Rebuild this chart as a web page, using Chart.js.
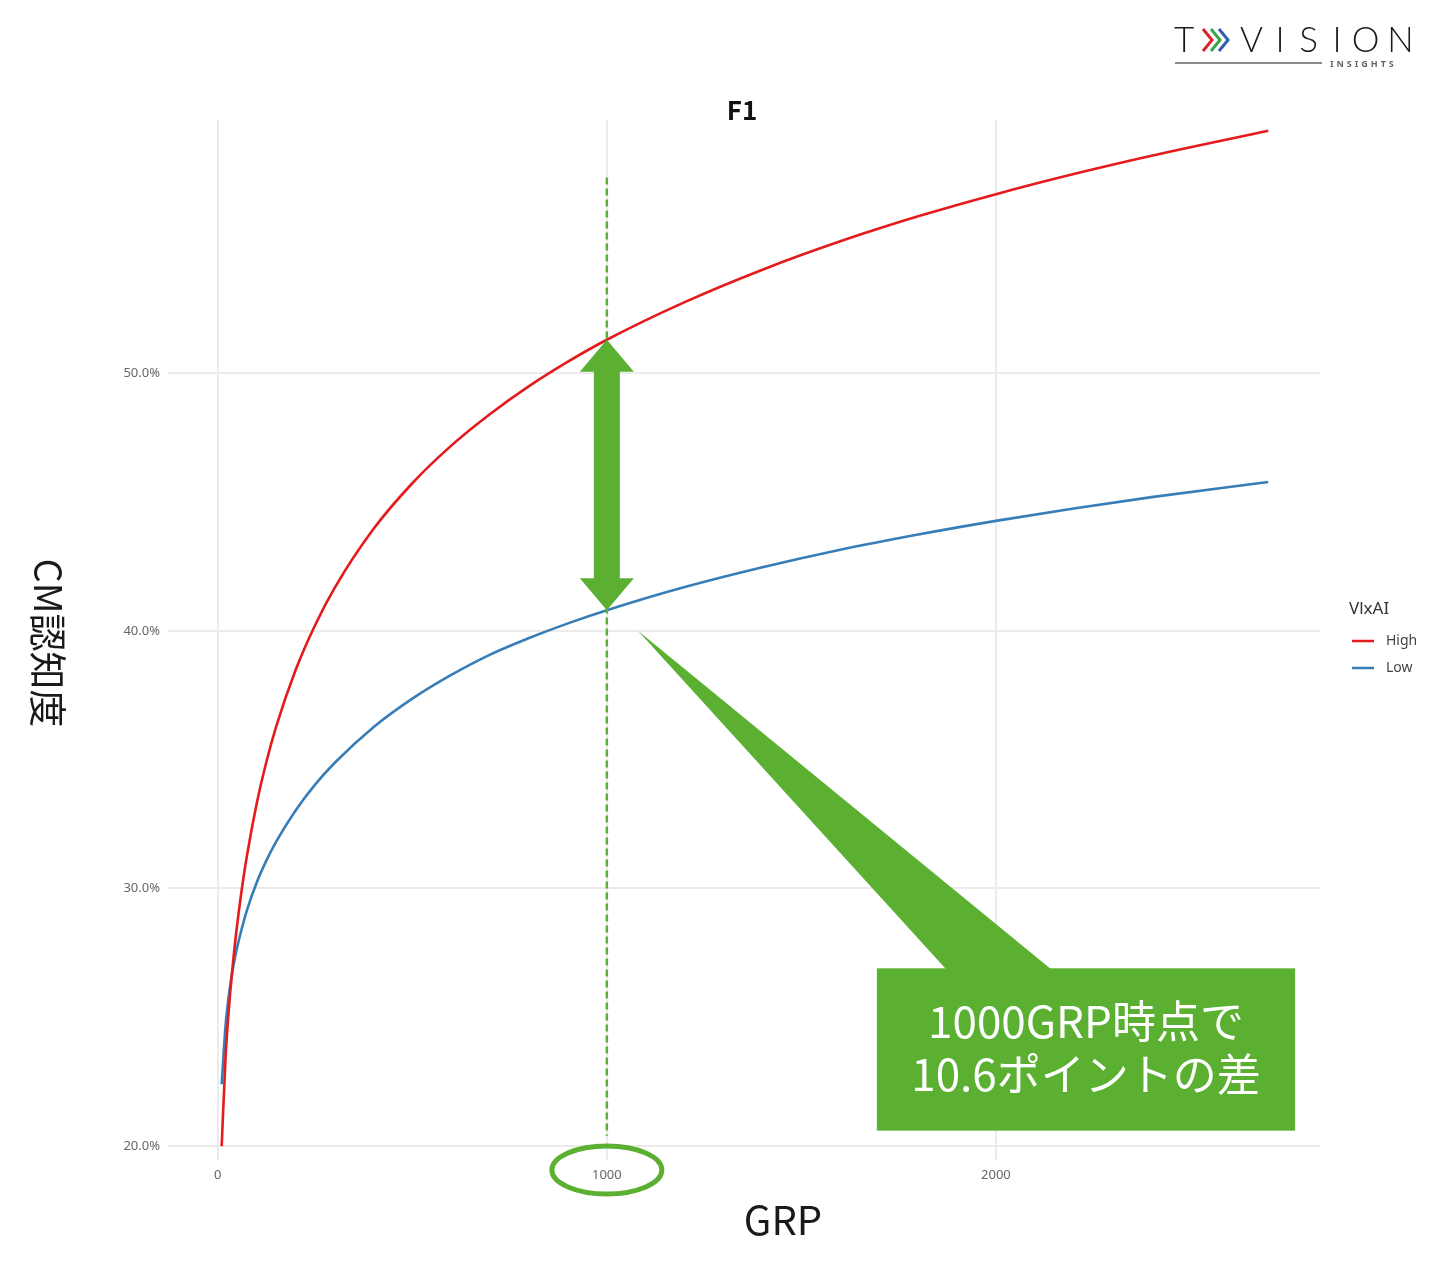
<!DOCTYPE html>
<html>
<head>
<meta charset="utf-8">
<script src="https://cdn.jsdelivr.net/npm/chart.js@4.4.1/dist/chart.umd.min.js"></script>
<style>
  html, body { margin: 0; padding: 0; background: #fff; }
  canvas { display: block; }
</style>
</head>
<body>
<canvas id="grpChart" width="1440" height="1271"></canvas>
<script>
// values
var grp      = [10, 20, 30, 40, 50, 60, 75, 100, 125, 150, 200, 250, 300, 400, 500, 600, 700, 800, 900, 1000, 1200, 1400, 1600, 1800, 2000, 2200, 2400, 2700];
var highVals = [20.0, 23.47, 25.62, 27.26, 28.62, 29.79, 31.28, 33.3, 34.92, 36.28, 38.48, 40.22, 41.66, 43.95, 45.73, 47.19, 48.42, 49.5, 50.45, 51.3, 52.76, 54.02, 55.12, 56.09, 56.95, 57.73, 58.44, 59.41];
var lowVals  = [22.4, 24.69, 26.03, 26.98, 27.73, 28.35, 29.16, 30.23, 31.09, 31.82, 33.03, 34.03, 34.87, 36.26, 37.37, 38.29, 39.08, 39.72, 40.29, 40.8, 41.7, 42.47, 43.15, 43.74, 44.27, 44.75, 45.19, 45.78];
var seriesNames = ['High', 'Low'];
var xTicks = [0, 1000, 2000];
var yTicks = [20, 30, 40, 50];

var GREEN = '#5bb031';
var MARK_GRP = 1000;

function pts(vals) {
  return grp.map(function (g, i) { return { x: g, y: vals[i] }; });
}

// green annotations, titles, legend and logo
var overlay = {
  id: 'overlay',
  afterDatasetsDraw: function (chart) {
    var ctx = chart.ctx;
    var xs = chart.scales.x, ys = chart.scales.y;
    var idx = grp.indexOf(MARK_GRP);
    var cx = xs.getPixelForValue(MARK_GRP);
    var top = ys.getPixelForValue(highVals[idx]);
    var bot = ys.getPixelForValue(lowVals[idx]);

    ctx.save();
    // dashed marker line
    ctx.strokeStyle = GREEN;
    ctx.lineWidth = 2.5;
    ctx.setLineDash([7, 4]);
    ctx.beginPath();
    ctx.moveTo(cx, ys.getPixelForValue(57.6));
    ctx.lineTo(cx, ys.getPixelForValue(20.4));
    ctx.stroke();
    ctx.setLineDash([]);

    // double arrow between the two curves
    ctx.fillStyle = GREEN;
    var hw = 27, hh = 32, sw = 13;
    ctx.beginPath();
    ctx.moveTo(cx, top);
    ctx.lineTo(cx + hw, top + hh);
    ctx.lineTo(cx + sw, top + hh);
    ctx.lineTo(cx + sw, bot - hh);
    ctx.lineTo(cx + hw, bot - hh);
    ctx.lineTo(cx, bot);
    ctx.lineTo(cx - hw, bot - hh);
    ctx.lineTo(cx - sw, bot - hh);
    ctx.lineTo(cx - sw, top + hh);
    ctx.lineTo(cx - hw, top + hh);
    ctx.closePath();
    ctx.fill();

    // callout box with pointer
    var bx1 = xs.getPixelForValue(1694), bx2 = xs.getPixelForValue(2769);
    var by1 = ys.getPixelForValue(26.9), by2 = ys.getPixelForValue(20.6);
    ctx.beginPath();
    ctx.moveTo(xs.getPixelForValue(1080), ys.getPixelForValue(40.0));
    ctx.lineTo(xs.getPixelForValue(1872), by1 + 1);
    ctx.lineTo(xs.getPixelForValue(2142), by1 + 1);
    ctx.closePath();
    ctx.fill();
    ctx.fillRect(bx1, by1, bx2 - bx1, by2 - by1);

    ctx.fillStyle = '#ffffff';
    ctx.font = '44px "Noto Sans CJK JP"';
    ctx.textAlign = 'center';
    ctx.textBaseline = 'middle';
    var tx = (bx1 + bx2) / 2;
    ctx.fillText('1000GRP時点で', tx, by1 + 53);
    ctx.fillText('10.6ポイントの差', tx, by1 + 106);

    // ellipse round the 1000 tick label
    ctx.strokeStyle = GREEN;
    ctx.lineWidth = 5;
    ctx.beginPath();
    ctx.ellipse(cx, 1170, 55, 24, 0, 0, Math.PI * 2);
    ctx.stroke();
    ctx.restore();
  },
  afterDraw: function (chart) {
    var ctx = chart.ctx;
    ctx.save();
    ctx.textBaseline = 'middle';

    // plot title
    ctx.fillStyle = '#111';
    ctx.textAlign = 'center';
    ctx.font = 'bold 26px "Noto Sans CJK JP"';
    ctx.fillText('F1', 742, 110);

    // x axis title
    ctx.font = '40px "Noto Sans CJK JP"';
    ctx.fillStyle = '#1a1a1a';
    ctx.fillText('GRP', 783, 1220);

    // y axis title, turned clockwise
    ctx.save();
    ctx.translate(48, 643);
    ctx.rotate(Math.PI / 2);
    ctx.font = '38px "Noto Sans CJK JP"';
    ctx.fillText('CM認知度', 0, 0);
    ctx.restore();

    // legend
    ctx.textAlign = 'left';
    ctx.fillStyle = '#333';
    ctx.font = '17px "Noto Sans"';
    ctx.fillText('VlxAI', 1349, 609);
    ctx.font = '14px "Noto Sans"';
    chart.data.datasets.forEach(function (ds, i) {
      var y = 641 + i * 27;
      ctx.strokeStyle = ds.borderColor;
      ctx.lineWidth = 2.5;
      ctx.beginPath();
      ctx.moveTo(1352, y);
      ctx.lineTo(1374, y);
      ctx.stroke();
      ctx.fillStyle = '#444';
      ctx.fillText(ds.label, 1386, y);
    });

    // logo
    ctx.textBaseline = 'alphabetic';
    ctx.fillStyle = '#1a1a1a';
    ctx.font = '300 35px Lato';
    ctx.fillText('T', 1174, 52);
    var chev = ['#d8262c', '#3aa54a', '#2f5fb3'];
    ctx.lineWidth = 3;
    chev.forEach(function (c, i) {
      var x = 1203 + i * 8;
      ctx.strokeStyle = c;
      ctx.beginPath();
      ctx.moveTo(x, 29);
      ctx.lineTo(x + 9, 40);
      ctx.lineTo(x, 51);
      ctx.stroke();
    });
    var word = 'VISION', wx = 1234;
    for (var k = 0; k < word.length; k++) {
      var w = ctx.measureText(word[k]).width;
      var slot = (word[k] === 'I') ? 22 : 35;
      ctx.fillText(word[k], wx + (slot - w) / 2, 52);
      wx += slot;
    }
    ctx.strokeStyle = '#8a8a8a';
    ctx.lineWidth = 2;
    ctx.beginPath();
    ctx.moveTo(1175, 63);
    ctx.lineTo(1322, 63);
    ctx.stroke();
    ctx.fillStyle = '#666';
    ctx.font = 'bold 9px "Noto Sans"';
    ctx.letterSpacing = '3px';
    ctx.fillText('INSIGHTS', 1330, 67);
    ctx.restore();
  }
};

var ctxGrp = document.getElementById('grpChart').getContext('2d');
var grpChart = new Chart(ctxGrp, {
  type: 'line',
  data: {
    datasets: [{
      label: seriesNames[0],
      data: pts(highVals),
      borderColor: '#e41a1c',
      borderWidth: 2.6,
      pointRadius: 0,
      cubicInterpolationMode: 'monotone'
    },
    {
      label: seriesNames[1],
      data: pts(lowVals),
      borderColor: '#377eb8',
      borderWidth: 2.6,
      pointRadius: 0,
      cubicInterpolationMode: 'monotone'
    }]
  },
  options: {
    responsive: false,
    animation: false,
    layout: { padding: { left: 108, right: 120, top: 120, bottom: 71 } },
    plugins: {
      legend: { display: false },
      title: { display: false },
      tooltip: { enabled: false }
    },
    scales: {
      x: {
        type: 'linear',
        min: -128,
        max: 2833,
        border: { display: false },
        grid: { color: '#ebebeb', lineWidth: 2, drawTicks: false },
        ticks: {
          padding: 7,
          color: '#666',
          font: { family: 'Noto Sans', size: 13 },
          callback: function (v) { return String(v); }
        },
        afterBuildTicks: function (s) { s.ticks = xTicks.map(function (v) { return { value: v }; }); },
        afterFit: function (s) { s.height = 40; }
      },
      y: {
        type: 'linear',
        min: 19.46,
        max: 59.83,
        border: { display: false },
        grid: { color: '#ebebeb', lineWidth: 2, drawTicks: false },
        ticks: {
          padding: 8,
          color: '#666',
          font: { family: 'Noto Sans', size: 13 },
          callback: function (v) { return v.toFixed(1) + '%'; }
        },
        afterBuildTicks: function (s) { s.ticks = yTicks.map(function (v) { return { value: v }; }); },
        afterFit: function (s) { s.width = 60; }
      }
    }
  },
  plugins: [overlay]
});
</script>
</body>
</html>
